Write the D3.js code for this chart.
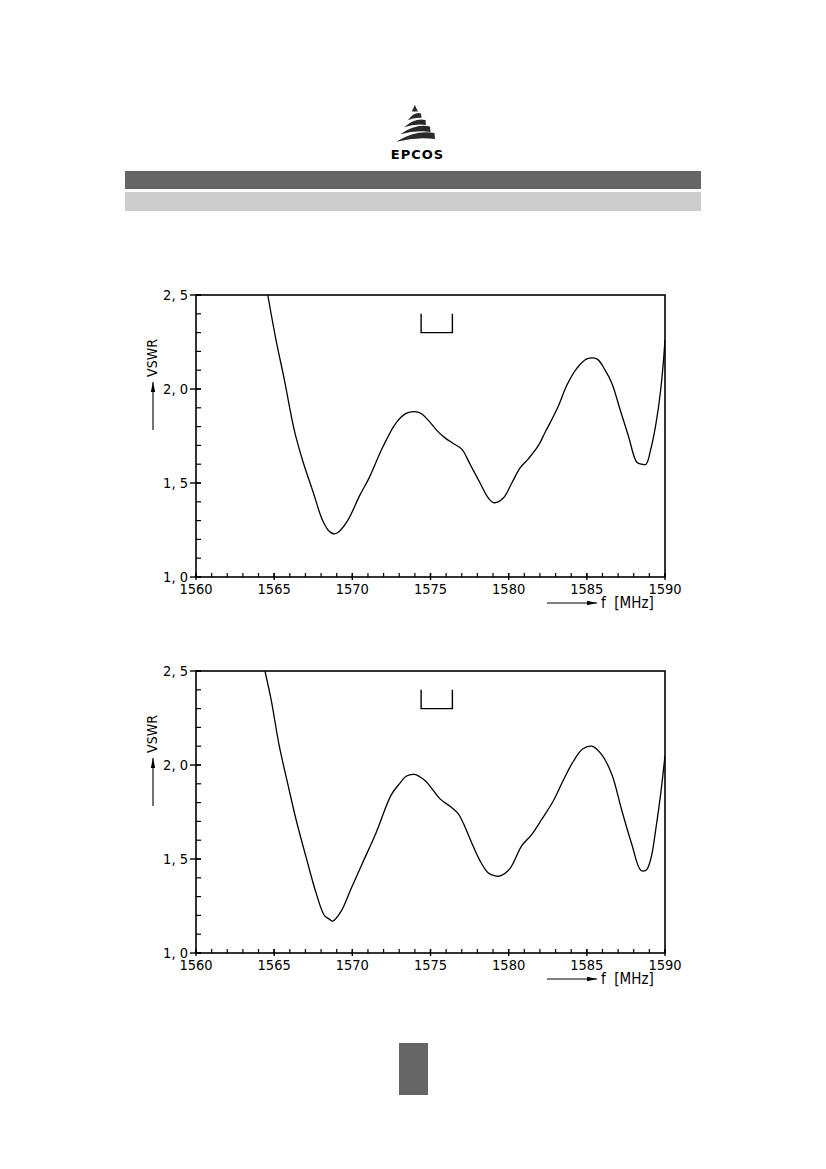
<!DOCTYPE html>
<html><head><meta charset="utf-8">
<script src="https://cdn.jsdelivr.net/npm/d3@7"></script>
<style>
html,body{margin:0;padding:0;background:#fff;}
svg{display:block;}
text{font-family:"Liberation Sans Narrow","DejaVu Sans Condensed","Liberation Sans",sans-serif;fill:#000;}
</style></head>
<body>
<script>
// ---- data ----
const freqDomain = [1560, 1590];
const vswrDomain = [1.0, 2.5];
const freqMajorTicks = [1560, 1565, 1570, 1575, 1580, 1585, 1590];
const freqMinorTicks = d3.range(1560, 1591, 1);
const vswrMajorTicks = [1.0, 1.5, 2.0, 2.5];
const vswrMajorLabels = ["1, 0", "1, 5", "2, 0", "2, 5"];
const vswrMinorTicks = d3.range(10, 26, 1).map(d => d / 10);
const passband = [1574.4, 1576.4];
const passbandLevels = [2.30, 2.40];
const xLabel = "f  [MHz]";
const yLabel = "VSWR";

const freq1 = [1564.59,1565.12,1565.65,1566.29,1566.82,1567.46,1568.10,1568.50,1568.80,1569.05,1569.70,1570.45,1571.09,1571.94,1572.80,1573.44,1573.97,1574.40,1575.00,1575.40,1575.93,1576.46,1577.00,1577.53,1578.17,1578.70,1579.07,1579.66,1580.20,1580.73,1581.27,1581.91,1582.33,1582.65,1583.18,1583.72,1584.36,1585.00,1585.64,1586.17,1586.60,1587.13,1587.66,1588.20,1588.52,1588.79,1589.09,1589.43,1589.73,1590.00];
const vswr1 = [2.50,2.26,2.05,1.78,1.62,1.46,1.30,1.245,1.23,1.235,1.30,1.43,1.53,1.69,1.82,1.87,1.88,1.87,1.82,1.78,1.74,1.71,1.68,1.60,1.50,1.42,1.395,1.42,1.50,1.58,1.63,1.70,1.77,1.82,1.91,2.02,2.11,2.16,2.16,2.10,2.03,1.89,1.75,1.61,1.60,1.60,1.68,1.82,2.00,2.26];

const freq2 = [1564.41,1564.80,1565.33,1565.87,1566.40,1567.04,1567.68,1568.21,1568.53,1568.74,1569.27,1569.91,1570.66,1571.52,1572.48,1573.01,1573.44,1573.97,1574.61,1575.04,1575.61,1576.25,1576.78,1577.10,1577.64,1578.17,1578.70,1579.13,1579.45,1580.09,1580.83,1581.47,1582.11,1582.86,1583.50,1584.14,1584.73,1585.31,1585.95,1586.60,1587.23,1587.87,1588.45,1588.79,1589.09,1589.43,1589.73,1590.00];
const vswr2 = [2.50,2.35,2.10,1.90,1.71,1.51,1.32,1.20,1.18,1.17,1.22,1.34,1.48,1.64,1.84,1.90,1.94,1.95,1.92,1.88,1.82,1.78,1.74,1.69,1.585,1.49,1.425,1.41,1.41,1.45,1.57,1.63,1.71,1.81,1.92,2.02,2.085,2.10,2.055,1.95,1.76,1.58,1.44,1.44,1.50,1.67,1.85,2.05];

// ---- page ----
const W = 826, H = 1169;
const svg = d3.select("body").append("svg").attr("width", W).attr("height", H);

// header bars
svg.append("rect").attr("x",125).attr("y",171).attr("width",576).attr("height",18).attr("fill","#666666");
svg.append("rect").attr("x",125).attr("y",192).attr("width",576).attr("height",19).attr("fill","#cccccc");
// footer box
svg.append("rect").attr("x",399).attr("y",1043).attr("width",29).attr("height",52).attr("fill","#666666");

// logo
const logo = svg.append("g").attr("fill","#2a2a2a");
logo.append("path").attr("d","M414.8,105 L418,111.5 L411.8,111.5 Z");
const stripes = [
  [408.5,119.5,421.0,113.5, 2, 4.5],
  [405.0,126.5,425.5,120.0, 2.5, 5],
  [401.5,133.5,430.0,126.5, 3, 5.5],
  [397.5,141.0,434.5,133.0, 3.5, 6]
];
stripes.forEach(([xl,yb,xr,yt,c,t]) => {
  const xm = (xl + xr) / 2;
  logo.append("path").attr("d",
    `M${xl},${yb} Q${xm},${yt-c} ${xr},${yt} L${xr+0.5},${yt+t} Q${xm},${yt+t-c+1} ${xl-1},${yb+0.8} Z`);
});
svg.append("text").attr("x",417.5).attr("y",158.5).attr("text-anchor","middle")
  .style("font-family","'DejaVu Sans',sans-serif").style("font-weight","bold")
  .style("font-size","13px").style("letter-spacing","1px").text("EPCOS");

// arrow marker
svg.append("defs").append("marker").attr("id","arr").attr("viewBox","0 0 10 6")
  .attr("refX",10).attr("refY",3).attr("markerWidth",10).attr("markerHeight",6)
  .attr("markerUnits","userSpaceOnUse").attr("orient","auto")
  .append("path").attr("d","M0,0.8 L10,3 L0,5.2 Z").attr("fill","#000");

function drawChart(top, freq, vswr) {
  const left = 196, right = 665, bottom = top + 282;
  const x = d3.scaleLinear().domain(freqDomain).range([left, right]);
  const y = d3.scaleLinear().domain(vswrDomain).range([bottom, top]);
  const g = svg.append("g");
  const clipId = "clip" + top;
  g.append("clipPath").attr("id", clipId).append("rect")
    .attr("x", left).attr("y", top).attr("width", right - left).attr("height", bottom - top);

  // minor ticks
  g.selectAll(".xm").data(freqMinorTicks).join("line")
    .attr("x1", d => x(d)).attr("x2", d => x(d)).attr("y1", bottom).attr("y2", bottom - 4)
    .attr("stroke","#000").attr("stroke-width",1.2);
  g.selectAll(".xM").data(freqMajorTicks).join("line")
    .attr("x1", d => x(d)).attr("x2", d => x(d)).attr("y1", bottom + 3).attr("y2", bottom - 4)
    .attr("stroke","#000").attr("stroke-width",1.4);
  g.selectAll(".ym").data(vswrMinorTicks).join("line")
    .attr("x1", left).attr("x2", left + 5).attr("y1", d => y(d)).attr("y2", d => y(d))
    .attr("stroke","#000").attr("stroke-width",1.2);
  g.selectAll(".yM").data(vswrMajorTicks).join("line")
    .attr("x1", left - 6).attr("x2", left + 5).attr("y1", d => y(d)).attr("y2", d => y(d))
    .attr("stroke","#000").attr("stroke-width",1.4);

  // frame
  g.append("rect").attr("x", left).attr("y", top).attr("width", right - left).attr("height", bottom - top)
    .attr("fill","none").attr("stroke","#000").attr("stroke-width",1.6);

  // tick labels
  g.selectAll(".xl").data(freqMajorTicks).join("text")
    .attr("x", d => x(d)).attr("y", bottom + 16.5).attr("text-anchor","middle")
    .style("font-size","14.5px").text(d => d);
  g.selectAll(".yl").data(vswrMajorTicks).join("text")
    .attr("x", left - 8).attr("y", d => y(d) + 4.5).attr("text-anchor","end")
    .style("font-size","14.5px").text((d, i) => vswrMajorLabels[i]);

  // axis titles
  g.append("line").attr("x1", 547).attr("x2", 597).attr("y1", bottom + 26).attr("y2", bottom + 26)
    .attr("stroke","#000").attr("stroke-width",1.1).attr("marker-end","url(#arr)");
  g.append("text").attr("x", 601).attr("y", bottom + 31).style("font-size","15px")
    .attr("xml:space","preserve").text(xLabel);
  g.append("line").attr("x1", 153).attr("x2", 153).attr("y1", top + 135).attr("y2", top + 87)
    .attr("stroke","#000").attr("stroke-width",1.1).attr("marker-end","url(#arr)");
  g.append("text").attr("transform", `translate(156.5,${top + 63}) rotate(-90)`)
    .attr("text-anchor","middle").style("font-size","14px").text(yLabel);

  // passband bracket
  const bx0 = x(passband[0]), bx1 = x(passband[1]);
  const by0 = y(passbandLevels[1]), by1 = y(passbandLevels[0]);
  g.append("path").attr("d", `M${bx0},${by0} L${bx0},${by1} L${bx1},${by1} L${bx1},${by0}`)
    .attr("fill","none").attr("stroke","#000").attr("stroke-width",1.4);

  // curve
  const pts = freq.map((f, i) => [f, vswr[i]]);
  const line = d3.line().x(d => x(d[0])).y(d => y(d[1])).curve(d3.curveCatmullRom.alpha(0.5));
  g.append("path").attr("clip-path", `url(#${clipId})`).attr("d", line(pts))
    .attr("fill","none").attr("stroke","#000").attr("stroke-width",1.3);
}

drawChart(295, freq1, vswr1);
drawChart(671, freq2, vswr2);
</script>
</body></html>
